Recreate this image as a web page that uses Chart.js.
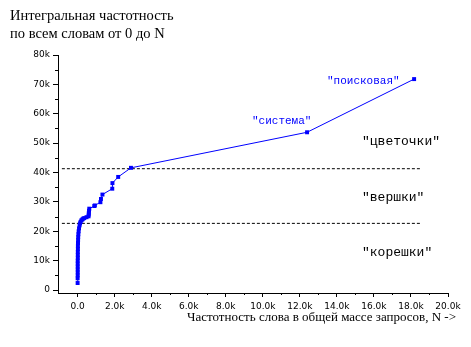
<!DOCTYPE html>
<html>
<head>
<meta charset="utf-8">
<script src="https://cdn.jsdelivr.net/npm/chart.js@4/dist/chart.umd.min.js"></script>
<style>
  html, body { margin: 0; padding: 0; background: #fff; }
  #wrap { width: 471px; height: 347px; }
</style>
</head>
<body>
<div id="wrap"><canvas id="chart" width="471" height="347"></canvas></div>
<script>
// word frequency N (x) and cumulative frequency (y)
const wordFreq = [0, 0, 5, 5, 5, 5, 5, 5, 10, 10, 10, 15, 15, 20, 25, 30, 40, 55, 75, 105,
  130, 160, 200, 250, 300, 360, 480, 590, 600, 605, 615, 630, 900, 930, 1230, 1260,
  1340, 1870, 1880, 2190, 2880, 12390, 18170];
const cumFreq = [2400, 4000, 5000, 6000, 7000, 8000, 9000, 10000, 11000, 12000, 13000, 14000,
  15000, 16000, 17000, 18000, 19000, 20000, 21000, 22000, 22700, 23200, 23700, 24000, 24300,
  24500, 24800, 25100, 25700, 26300, 27000, 27700, 28600, 28800, 29900, 31000, 32500, 34500,
  36400, 38500, 41600, 53700, 71800];

// dashed borders between "корешки" / "вершки" / "цветочки"
const bandX = [-850, 18560];
const upperBand = [41300, 41300];
const lowerBand = [22700, 22700];

const xTicks = [0, 2000, 4000, 6000, 8000, 10000, 12000, 14000, 16000, 18000, 20000];
const xMinor = [1000, 3000, 5000, 7000, 9000, 11000, 13000, 15000, 17000, 19000];
const yTicks = [0, 10000, 20000, 30000, 40000, 50000, 60000, 70000, 80000];
const yMinor = [5000, 15000, 25000, 35000, 45000, 55000, 65000, 75000];

Chart.defaults.font.family = '"DejaVu Sans", sans-serif';
Chart.defaults.font.size = 9;
Chart.defaults.color = '#000';

const extras = {
    id: 'extras',
    afterDraw(chart) {
        const { ctx, scales: { x, y } } = chart;
        ctx.save();

        // minor ticks
        ctx.strokeStyle = '#000';
        ctx.lineWidth = 1;
        ctx.beginPath();
        xMinor.forEach(v => {
            const px = Math.round(x.getPixelForValue(v)) + 0.5;
            ctx.moveTo(px, x.top);
            ctx.lineTo(px, x.top + 2);
        });
        yMinor.forEach(v => {
            const py = Math.round(y.getPixelForValue(v)) + 0.5;
            ctx.moveTo(y.right, py);
            ctx.lineTo(y.right - 3, py);
        });
        ctx.stroke();

        // titles
        ctx.fillStyle = '#000';
        ctx.textAlign = 'left';
        ctx.textBaseline = 'alphabetic';
        ctx.font = '14.5px "Liberation Serif", serif';
        ctx.fillText('Интегральная частотность', 10, 20);
        ctx.fillText('по всем словам от 0 до N', 10, 38);
        ctx.font = '13px "Liberation Serif", serif';
        ctx.fillText('Частотность слова в общей массе запросов, N ->', 187, 321);

        // band names
        ctx.font = '13px "Liberation Mono", monospace';
        ctx.fillText('"цветочки"', 362, 145);
        ctx.fillText('"вершки"', 362, 201);
        ctx.fillText('"корешки"', 362, 256);

        // word labels
        ctx.fillStyle = '#0000ff';
        ctx.font = '11px "Liberation Mono", monospace';
        ctx.fillText('"поисковая"', 327, 84);
        ctx.fillText('"система"', 252, 124);

        ctx.restore();
    }
};

new Chart(document.getElementById('chart'), {
    type: 'scatter',
    data: {
        datasets: [
            {
                label: 'cumulative',
                data: wordFreq.map((n, i) => ({ x: n, y: cumFreq[i] })),
                showLine: true,
                borderColor: '#0000ff',
                backgroundColor: '#0000ff',
                borderWidth: 1,
                pointStyle: 'rect',
                pointRadius: 2.8,
                pointBorderWidth: 0
            },
            {
                label: 'upper',
                data: bandX.map((n, i) => ({ x: n, y: upperBand[i] })),
                showLine: true,
                borderColor: '#000',
                borderWidth: 1,
                borderDash: [3, 2],
                pointRadius: 0
            },
            {
                label: 'lower',
                data: bandX.map((n, i) => ({ x: n, y: lowerBand[i] })),
                showLine: true,
                borderColor: '#000',
                borderWidth: 1,
                borderDash: [3, 2],
                pointRadius: 0
            }
        ]
    },
    options: {
        responsive: false,
        animation: false,
        devicePixelRatio: 1,
        layout: { padding: { left: 0, right: 23, top: 55, bottom: 0 } },
        plugins: {
            legend: { display: false },
            tooltip: { enabled: false }
        },
        scales: {
            x: {
                type: 'linear',
                min: -1060,
                max: 20000,
                afterBuildTicks: scale => { scale.ticks = xTicks.map(v => ({ value: v })); },
                afterFit: scale => { scale.height = 54; },
                border: { display: true, color: '#000', width: 1 },
                grid: { display: true, drawOnChartArea: false, drawTicks: true, tickLength: 4, tickColor: '#000' },
                ticks: {
                    padding: 4,
                    maxRotation: 0,
                    autoSkip: false,
                    callback: v => v === 0 ? '0.0' : (v / 1000).toFixed(1) + 'k'
                }
            },
            y: {
                type: 'linear',
                min: -1000,
                max: 80000,
                afterBuildTicks: scale => { scale.ticks = yTicks.map(v => ({ value: v })); },
                afterFit: scale => { scale.width = 58; },
                border: { display: true, color: '#000', width: 1 },
                grid: { display: true, drawOnChartArea: false, drawTicks: true, tickLength: 5, tickColor: '#000' },
                ticks: {
                    padding: 3,
                    autoSkip: false,
                    callback: v => v === 0 ? '0' : (v / 1000) + 'k'
                }
            }
        }
    },
    plugins: [extras]
});
</script>
</body>
</html>
